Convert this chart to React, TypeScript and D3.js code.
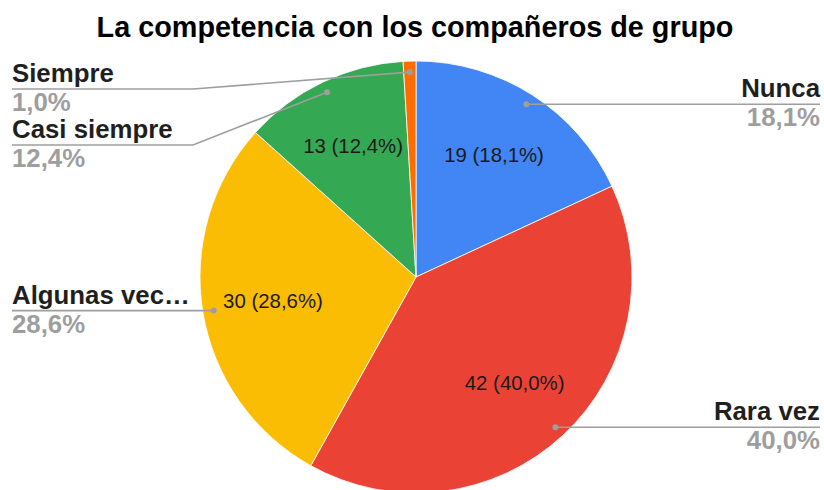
import React from "react";
import * as d3 from "d3";

const title = "La competencia con los compañeros de grupo";
const categories = ["Nunca", "Rara vez", "Algunas veces", "Casi siempre", "Siempre"];
const shownLabels = ["Nunca", "Rara vez", "Algunas vec…", "Casi siempre", "Siempre"];
const values = [19, 42, 30, 13, 1];
const colors = ["#4285F4", "#EA4335", "#FBBC04", "#34A853", "#FF6D01"];

const W = 824;
const H = 490;
const cx = 416;
const cy = 277;
const R = 216;
const FONT = "'Liberation Sans', Arial, sans-serif";

const fmt = (v: number) => (v * 100).toFixed(1).replace(".", ",") + "%";

export default function App() {
  const total = d3.sum(values);
  const pie = d3.pie<number>().sort(null).value((d) => d);
  const arcs = pie(values);
  const arcGen = d3.arc<d3.PieArcDatum<number>>().innerRadius(0).outerRadius(R);
  const labelR = 145;
  const dotR = 205;

  const mid = (a: d3.PieArcDatum<number>) => (a.startAngle + a.endAngle) / 2;
  const pt = (ang: number, r: number) => [cx + Math.sin(ang) * r, cy - Math.cos(ang) * r];

  const items = arcs.map((a, i) => {
    const m = mid(a);
    const [dx, dy] = pt(m, dotR);
    return { i, m, dx, dy, right: Math.sin(m) >= 0 };
  });
  const left = items.filter((d) => !d.right).sort((a, b) => a.dy - b.dy);
  const right = items.filter((d) => d.right).sort((a, b) => a.dy - b.dy);
  const layout = (arr: typeof items) => {
    let prev = -Infinity;
    return arr.map((d) => {
      const ly = Math.max(d.dy, prev + 56, 89);
      prev = ly;
      return { ...d, ly };
    });
  };
  const placed = [...layout(left), ...layout(right)];

  return (
    <svg
      width={W}
      height={H}
      style={{ position: "absolute", left: 0, top: 0, background: "#fff" }}
      fontFamily={FONT}
    >
      <text x={415} y={37} textAnchor="middle" fontSize={28.8} fontWeight="bold" fill="#000">
        {title}
      </text>
      <g transform={`translate(${cx},${cy})`}>
        {arcs.map((a, i) => (
          <path key={categories[i]} d={arcGen(a) || ""} fill={colors[i]} stroke="#fff" strokeWidth={0.8} />
        ))}
      </g>
      {arcs.map((a, i) => {
        const frac = values[i] / total;
        if (frac < 0.05) return null;
        const [x, y] = pt(mid(a), labelR);
        return (
          <text key={"in" + i} x={x} y={y + 7} textAnchor="middle" fontSize={20.4} fill="#1a1a1a">
            {`${values[i]} (${fmt(frac)})`}
          </text>
        );
      })}
      {placed.map((d) => {
        const i = d.i;
        const frac = values[i] / total;
        const xEnd = d.right ? 820 : 12;
        const bendX = d.right ? d.dx : 193;
        const straight = d.right || Math.abs(d.ly - d.dy) < 2;
        const pts = d.right
          ? [[d.dx, d.dy], [xEnd, d.ly]]
          : straight
          ? [[d.dx, d.ly], [xEnd, d.ly]]
          : [[d.dx, d.dy], [bendX, d.ly], [xEnd, d.ly]];
        return (
          <g key={"out" + i}>
            <polyline
              points={pts.map((p) => p.join(",")).join(" ")}
              fill="none"
              stroke="#9e9e9e"
              strokeWidth={1.6}
            />
            <circle cx={d.dx} cy={pts[0][1]} r={3} fill="#9e9e9e" />
            <text
              x={xEnd}
              y={d.ly - 7}
              textAnchor={d.right ? "end" : "start"}
              fontSize={25.8}
              fontWeight="bold"
              fill="#1f1f1f"
            >
              {shownLabels[i]}
            </text>
            <text
              x={xEnd}
              y={d.ly + 22}
              textAnchor={d.right ? "end" : "start"}
              fontSize={25.8}
              fontWeight="bold"
              fill="#9e9e9e"
            >
              {fmt(frac)}
            </text>
          </g>
        );
      })}
    </svg>
  );
}
